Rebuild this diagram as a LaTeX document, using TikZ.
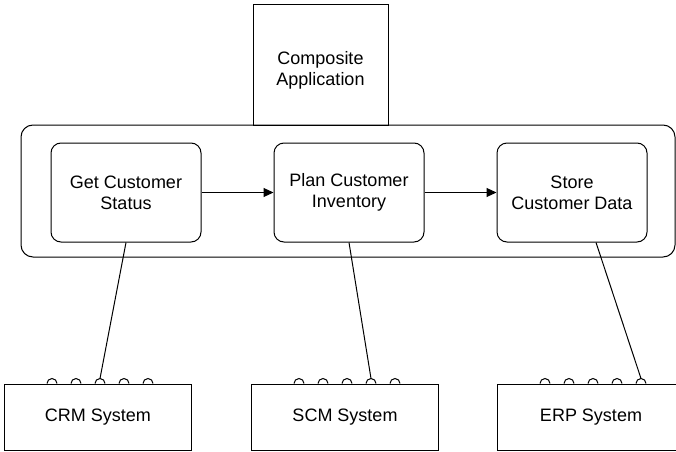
\documentclass[tikz,border=0pt]{standalone}
\usepackage{fontspec}
\setmainfont{Liberation Sans}
\usetikzlibrary{shapes,positioning,calc,arrows.meta}

\begin{document}
\begin{tikzpicture}
  [x=1pt,y=1pt,
   line width=1pt,
   font=\fontsize{18}{21}\selectfont,
   boxNode/.style={draw,rectangle,align=center,inner sep=0pt},
   appN/.style={boxNode,minimum width=135pt,minimum height=120pt},
   procN/.style={boxNode,rounded corners=12pt,minimum width=654pt,minimum height=132pt},
   taskN/.style={boxNode,rounded corners=10pt,minimum width=150pt,minimum height=99pt},
   sysN/.style={boxNode,minimum width=187pt,minimum height=66pt},
   flow/.style={-{Triangle[length=10pt,width=9pt]}},
  ]
  \useasboundingbox (0,0) rectangle (676,451);

  % composite application and its process
  \node[procN] (proc) at (348,260) {};
  \node[appN,label={[align=center,yshift=-5pt]center:Composite\\Application}]
    (comp) at (320.5,386) {};

  \node[taskN] (get) at (126,258.5) {Get Customer\\Status};
  \node[taskN] (plan) at (349,258.5) {Plan Customer\\Inventory};
  \node[taskN] (store) at (572,258.5) {Store\\Customer Data};

  \draw[flow] (get) -- (plan);
  \draw[flow] (plan) -- (store);

  % back-end systems with their ports
  \node[sysN] (crm) at (98,34) {CRM System};
  \node[sysN] (scm) at (345,34) {SCM System};
  \node[sysN] (erp) at (591,34) {ERP System};

  \foreach \s in {crm,scm,erp}
    \foreach \i in {1,...,5}
    {
      \draw ($(\s.north)+(-65+24*\i,0)$) arc (0:180:5);
      \coordinate (\s-p\i) at ($(\s.north)+(-70+24*\i,5)$);
    }

  \coordinate (store-out) at ($(store.south)+(24,0)$);
  \draw (get.south) -- (crm-p3);
  \draw (plan.south) -- (scm-p4);
  \draw (store-out) -- (erp-p5);
\end{tikzpicture}
\end{document}
